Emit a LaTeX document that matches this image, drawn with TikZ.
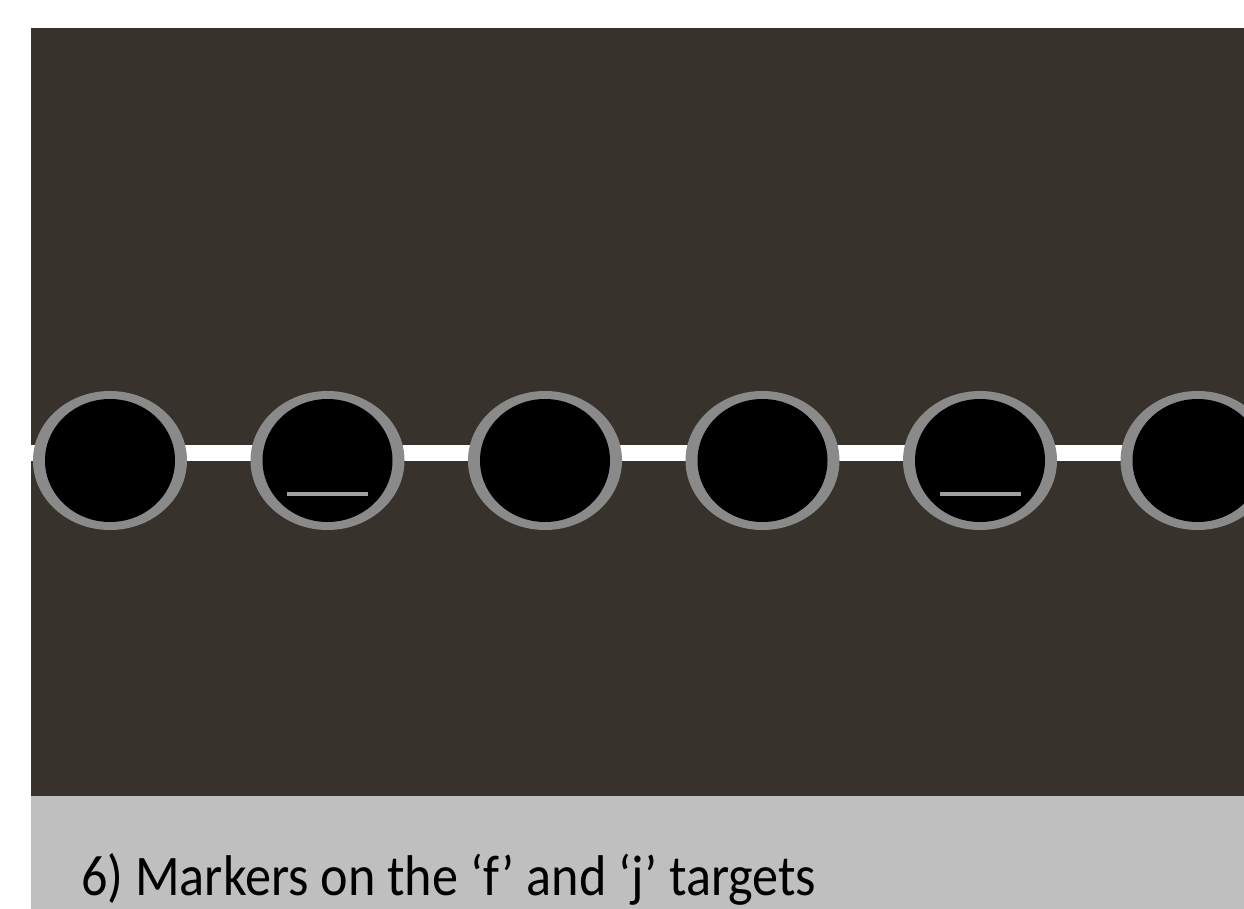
\documentclass[tikz,border=0pt]{standalone}
\usepackage{fontspec}
\setmainfont{Carlito}
\definecolor{panelbg}{RGB}{56,50,44}
\definecolor{ringgray}{RGB}{138,138,138}
\definecolor{markgray}{RGB}{160,160,160}
\definecolor{captionbg}{RGB}{191,191,191}
\usetikzlibrary{shapes.geometric}
\tikzset{
  target/.style={ellipse, minimum width=154pt, minimum height=139pt, fill=ringgray, inner sep=0pt},
  targetcore/.style={ellipse, minimum width=130pt, minimum height=123pt, fill=black, inner sep=0pt},
  markerline/.style={draw=markgray, line width=4.5pt},
  barline/.style={fill=white},
}
\begin{document}
\begin{tikzpicture}[x=1pt,y=-1pt]
\useasboundingbox (0,0) rectangle (1244,909);
\fill[white] (0,0) rectangle (1244,909);
\fill[panelbg] (31,28) rectangle (1244,796);
\fill[captionbg] (31,796) rectangle (1244,909);
\fill[barline] (31,445) rectangle (1244,461);
\foreach \i/\cx in {1/110,2/327.5,3/545,4/762.5,5/980,6/1197.5} {
  \node[target] (t\i) at (\cx,460.5) {};
  \node[targetcore] (c\i) at (\cx,460.5) {};
}
\draw[markerline] ([xshift=-40.5pt,yshift=-33.5pt]c2.center) coordinate (m2a) -- ([xshift=40.5pt,yshift=-33.5pt]c2.center) coordinate (m2b);
\draw[markerline] ([xshift=-40.5pt,yshift=-33.5pt]c5.center) coordinate (m5a) -- ([xshift=40.5pt,yshift=-33.5pt]c5.center) coordinate (m5b);
\node[anchor=base west, inner sep=0pt, font=\fontsize{56}{64}\selectfont] (cap) at (81,895) {\scalebox{1}[1.1]{\resizebox{735pt}{!}{6) Markers on the ‘f’ and ‘j’ targets}}};
\end{tikzpicture}
\end{document}
